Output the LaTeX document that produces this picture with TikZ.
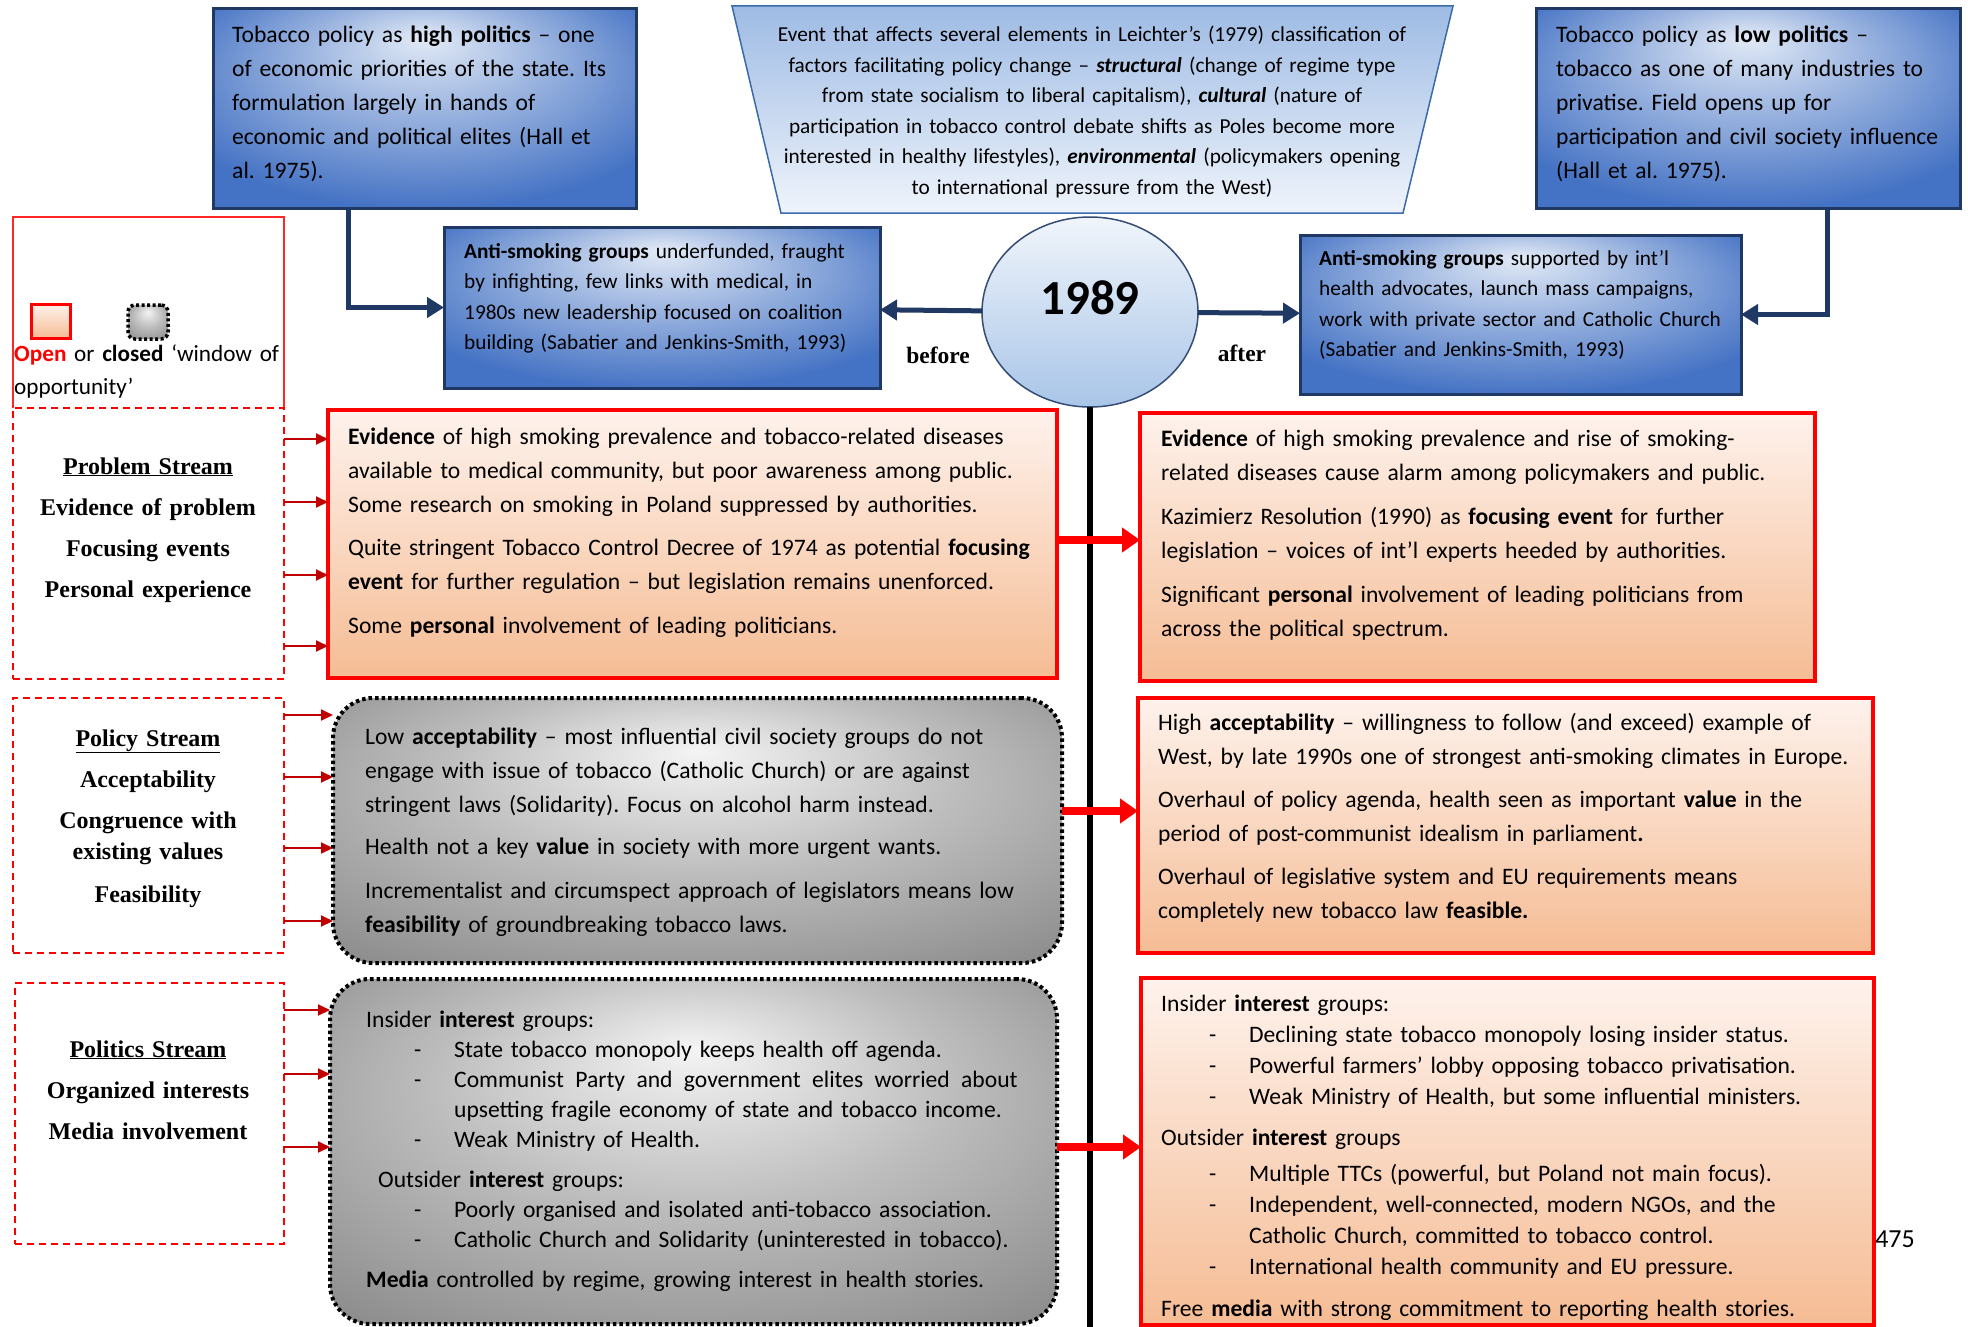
\documentclass[tikz,border=0pt]{standalone}
\usepackage{fontspec}
\setmainfont{Carlito}
\newfontfamily\streamfont{Liberation Serif}
\usetikzlibrary{arrows.meta,fit,shapes.geometric}
\frenchspacing

\definecolor{navy}{HTML}{1F3864}
\definecolor{boxblue}{HTML}{4472C4}
\definecolor{paleblue}{HTML}{E2EAF6}
\colorlet{midblue}{boxblue!45!paleblue}
\definecolor{trapblue}{HTML}{9EBBE4}
\definecolor{trapwhite}{HTML}{EFF4FB}
\definecolor{trapedge}{HTML}{3A6BA8}
\definecolor{blush}{HTML}{FEF2EC}
\definecolor{peach}{HTML}{F5BC94}
\definecolor{greylight}{HTML}{F4F4F4}
\definecolor{greydark}{HTML}{858585}
\colorlet{greymid}{greydark!50!greylight}
\definecolor{darkred}{HTML}{C00000}
\definecolor{ellipsetop}{HTML}{F0F5FB}
\definecolor{ellipsebot}{HTML}{A9C5E8}

\pgfdeclareradialshading{bluespot}{\pgfpoint{0bp}{18bp}}{color(0bp)=(paleblue); color(14bp)=(midblue); color(32bp)=(boxblue); color(50bp)=(boxblue)}
\pgfdeclareradialshading{greyspot}{\pgfpoint{0bp}{15bp}}{color(0bp)=(greylight); color(18bp)=(greymid); color(40bp)=(greydark); color(50bp)=(greydark)}

\newcommand{\dashitem}[1]{\hspace*{48pt}\makebox[40pt][l]{-}#1}
\newcommand{\dashcont}[1]{\hspace*{88pt}#1}
\newcommand{\wsp}{\hspace{3.5pt} }

\begin{document}
\begin{tikzpicture}[x=1pt, y=-1pt,
  panel/.style={inner sep=0pt, outer sep=0pt},
  bluebox/.style={panel, draw=navy, line width=3pt, shade, shading=bluespot},
  redbox/.style={panel, draw=red, line width=3.5pt, top color=blush, bottom color=peach},
  greybox/.style={panel, draw=black, line width=4pt, dash pattern=on 3.5pt off 3pt, rounded corners=40pt, shade, shading=greyspot},
  streambox/.style={panel, draw=red, line width=1.4pt, dash pattern=on 7pt off 5pt},
  body/.style={font=\fontsize{23.6}{34}\selectfont, align=left, inner sep=0pt, anchor=base west, text width=#1},
  body/.default=800pt,
  bodysmall/.style={body=#1, font=\fontsize{21.3}{30.5}\selectfont},
  bodysmall/.default=520pt,
  streamtext/.style={font=\streamfont\bfseries\fontsize{24}{31}\selectfont, align=center, inner sep=0pt, anchor=base, text width=262pt},
  streamword/.style={font=\streamfont\bfseries\fontsize{23.5}{28}\selectfont, inner sep=0pt},
  navyarrow/.style={draw=navy, line width=5pt, -{Triangle[length=17pt,width=20pt]}},
  feed/.style={draw=darkred, line width=2pt, -{Triangle[length=12pt,width=11pt]}},
  bigfeed/.style={draw=red, line width=8pt, -{Triangle[length=18pt,width=24pt]}}
]
  \fill[white] (0,0) rectangle (1968,1327);
  \useasboundingbox (0,0) rectangle (1968,1327);

  % -- Top row: high and low politics, the event --
  \node[bluebox, fit={(213,9) (636,208)}] (highpol) {};
  \node[bluebox, fit={(1536,9) (1960,208)}] (lowpol) {};
  \draw[trapedge, line width=1.5pt, top color=trapblue, bottom color=trapwhite]
    (732,6) -- (1453,6) -- (1403,213) -- (781,213) -- cycle;

  \node[body=420pt] (highpoltext) at (232,43) {Tobacco policy as \textbf{high politics} – one\\
    of economic priorities of the state. Its\\ formulation largely in hands of\\
    economic and political elites (Hall et\\ al. 1975).};
  \node[body=420pt] (lowpoltext) at (1556,43) {Tobacco policy as \textbf{low politics} –\\
    tobacco as one of many industries to\\ privatise. Field opens up for\\
    participation and civil society influence\\ (Hall et al. 1975).};
  \node[bodysmall=720pt, align=center, anchor=base] (event) at (1092,42) {Event that affects several elements in Leichter’s (1979) classification of\\
    factors facilitating policy change – \textbf{\textit{structural}} (change of regime type\\
    from state socialism to liberal capitalism), \textbf{\textit{cultural}} (nature of\\
    participation in tobacco control debate shifts as Poles become more\\
    interested in healthy lifestyles), \textbf{\textit{environmental}} (policymakers opening\\
    to international pressure from the West)};

  % -- 1989 and the advocacy groups --
  \node[bluebox, fit={(444,227) (880,388)}] (oldgroups) {};
  \node[bluebox, fit={(1300,235) (1741,394)}] (newgroups) {};
  \node[panel, ellipse, draw=navy!90, line width=1.5pt, top color=ellipsetop, bottom color=ellipsebot,
    minimum width=216pt, minimum height=190pt] (yr) at (1090,312) {};
  \node[font=\bfseries\fontsize{49}{49}\selectfont, inner sep=0pt] (yrtext) at (1090,298) {1989};
  \node[streamword] (beforetext) at (938,355) {before};
  \node[streamword] (aftertext) at (1242,353) {after};

  \node[bodysmall] (oldgroupstext) at (464,258) {\textbf{Anti-smoking groups} underfunded, fraught\\
    by infighting, few links with medical, in\\ 1980s new leadership focused on coalition\\
    building (Sabatier and Jenkins-Smith, 1993)};
  \node[bodysmall] (newgroupstext) at (1319,265) {\textbf{Anti-smoking groups} supported by int’l\\
    health advocates, launch mass campaigns,\\ work with private sector and Catholic Church\\
    (Sabatier and Jenkins-Smith, 1993)};

  % -- Legend --
  \draw[red!85!white, line width=1.2pt] (13,408) -- (13,217) -- (284,217) -- (284,408);
  \node[panel, draw=red, line width=3pt, top color=blush, bottom color=peach, fit={(31,304) (70,338)}] (openkey) {};
  \node[panel, draw=black, line width=3.5pt, dash pattern=on 3pt off 2.5pt, rounded corners=7pt,
    shade, shading=greyspot, fit={(128,305) (168,339)}] (closedkey) {};
  \node[body=300pt, font=\fontsize{23.2}{33}\selectfont] (keytext) at (14,361)
    {\textcolor{red}{\textbf{Open}} or \textbf{closed} ‘window of\\ opportunity’};

  % -- Streams --
  \node[streambox, fit={(13,408) (284,679)}] (probstream) {};
  \node[streambox, fit={(13,698) (284,953)}] (polstream) {};
  \node[streambox, fit={(15,983) (284,1244)}] (polistream) {};
  \node[streamtext] (probtext) at (148,474) {\underline{Problem Stream}\\[10pt] Evidence of problem\\[10pt]
    Focusing events\\[10pt] Personal experience};
  \node[streamtext] (poltext) at (148,746) {\underline{Policy Stream}\\[10pt] Acceptability\\[10pt]
    Congruence with\\ existing values\\[12pt] Feasibility};
  \node[streamtext] (politext) at (148,1057) {\underline{Politics Stream}\\[10pt] Organized interests\\[10pt]
    Media involvement};

  % -- Timeline --
  \draw[line width=6pt] (yr.south) -- (yr.south |- 0,1327);

  % -- Before 1989 --
  \node[redbox, fit={(328,410) (1057,678)}] (probold) {};
  \node[greybox, fit={(333,698) (1062,963)}] (polold) {};
  \node[greybox, fit={(330,979) (1057,1324)}] (poliold) {};

  \node[body] (proboldtext) at (348,444) {\textbf{Evidence} of high smoking prevalence and tobacco-related diseases\\
    available to medical community, but poor awareness among public.\\
    Some research on smoking in Poland suppressed by authorities.\\[9pt]
    Quite stringent Tobacco Control Decree of 1974 as potential \textbf{focusing}\\
    \textbf{event} for further regulation – but legislation remains unenforced.\\[10pt]
    Some \textbf{personal} involvement of leading politicians.};
  \node[body] (poloLdtext) at (365,744) {Low \textbf{acceptability} – most influential civil society groups do not\\
    engage with issue of tobacco (Catholic Church) or are against\\
    stringent laws (Solidarity). Focus on alcohol harm instead.\\[8pt]
    Health not a key \textbf{value} in society with more urgent wants.\\[10pt]
    Incrementalist and circumspect approach of legislators means low\\
    \textbf{feasibility} of groundbreaking tobacco laws.};
  \node[body, font=\fontsize{23.6}{30}\selectfont] (polioldtext) at (366,1027) {Insider \textbf{interest} groups:\\
    \dashitem{State tobacco monopoly keeps health off agenda.}\\
    \dashitem{Communist\wsp Party\wsp and\wsp government\wsp elites\wsp worried\wsp about}\\
    \dashcont{upsetting fragile economy of state and tobacco income.}\\
    \dashitem{Weak Ministry of Health.}\\[10pt]
    \hspace*{12pt}Outsider \textbf{interest} groups:\\
    \dashitem{Poorly organised and isolated anti-tobacco association.}\\
    \dashitem{Catholic Church and Solidarity (uninterested in tobacco).}\\[10pt]
    \textbf{Media} controlled by regime, growing interest in health stories.};

  % -- After 1989 --
  \node[redbox, fit={(1140,413) (1815,681)}] (probnew) {};
  \node[redbox, fit={(1138,698) (1873,953)}] (polnew) {};
  \node[redbox, fit={(1141,978) (1874,1325)}] (polinew) {};

  \node[body] (probnewtext) at (1161,446) {\textbf{Evidence} of high smoking prevalence and rise of smoking-\\
    related diseases cause alarm among policymakers and public.\\[10pt]
    Kazimierz Resolution (1990) as \textbf{focusing event} for further\\
    legislation – voices of int’l experts heeded by authorities.\\[10pt]
    Significant \textbf{personal} involvement of leading politicians from\\
    across the political spectrum.};
  \node[body] (polnewtext) at (1158,730) {High \textbf{acceptability} – willingness to follow (and exceed) example of\\
    West, by late 1990s one of strongest anti-smoking climates in Europe.\\[9pt]
    Overhaul of policy agenda, health seen as important \textbf{value} in the\\
    period of post-communist idealism in parliament\textbf{.}\\[9pt]
    Overhaul of legislative system and EU requirements means\\
    completely new tobacco law \textbf{feasible.}};
  \node[body, font=\fontsize{23.6}{31}\selectfont] (polinewtext) at (1161,1011) {Insider \textbf{interest} groups:\\
    \dashitem{Declining state tobacco monopoly losing insider status.}\\
    \dashitem{Powerful farmers’ lobby opposing tobacco privatisation.}\\
    \dashitem{Weak Ministry of Health, but some influential ministers.}\\[10pt]
    Outsider \textbf{interest} groups\\[5pt]
    \dashitem{Multiple TTCs (powerful, but Poland not main focus).}\\
    \dashitem{Independent, well-connected, modern NGOs, and the}\\
    \dashcont{Catholic Church, committed to tobacco control.}\\
    \dashitem{International health community and EU pressure.}\\[11pt]
    Free \textbf{media} with strong commitment to reporting health stories.};

  \node[font=\fontsize{26}{26}\selectfont, inner sep=0pt, anchor=base] (pagenum) at (1895,1247) {475};

  % -- Connectors --
  \draw[navyarrow] (yr) -- (oldgroups);
  \draw[navyarrow] (yr) -- (newgroups);
  \draw[navyarrow] ([xshift=135pt]highpol.south west) |- (oldgroups.west);
  \draw[navyarrow] ([xshift=-133pt]lowpol.south east) |- (newgroups.east);

  \foreach \y in {439,502,575,646}
    \draw[feed] (probstream.east |- 0,\y) -- (probold.west |- 0,\y);
  \foreach \y in {715,777,848,921}
    \draw[feed] (polstream.east |- 0,\y) -- (polold.west |- 0,\y);
  \foreach \y in {1010,1074,1147}
    \draw[feed] (polistream.east |- 0,\y) -- (poliold.west |- 0,\y);

  \draw[bigfeed] (probold.east |- 0,540) -- (probnew.west |- 0,540);
  \draw[bigfeed] (polold.east |- 0,811) -- (polnew.west |- 0,811);
  \draw[bigfeed] (poliold.east |- 0,1147) -- (polinew.west |- 0,1147);

\end{tikzpicture}
\end{document}
